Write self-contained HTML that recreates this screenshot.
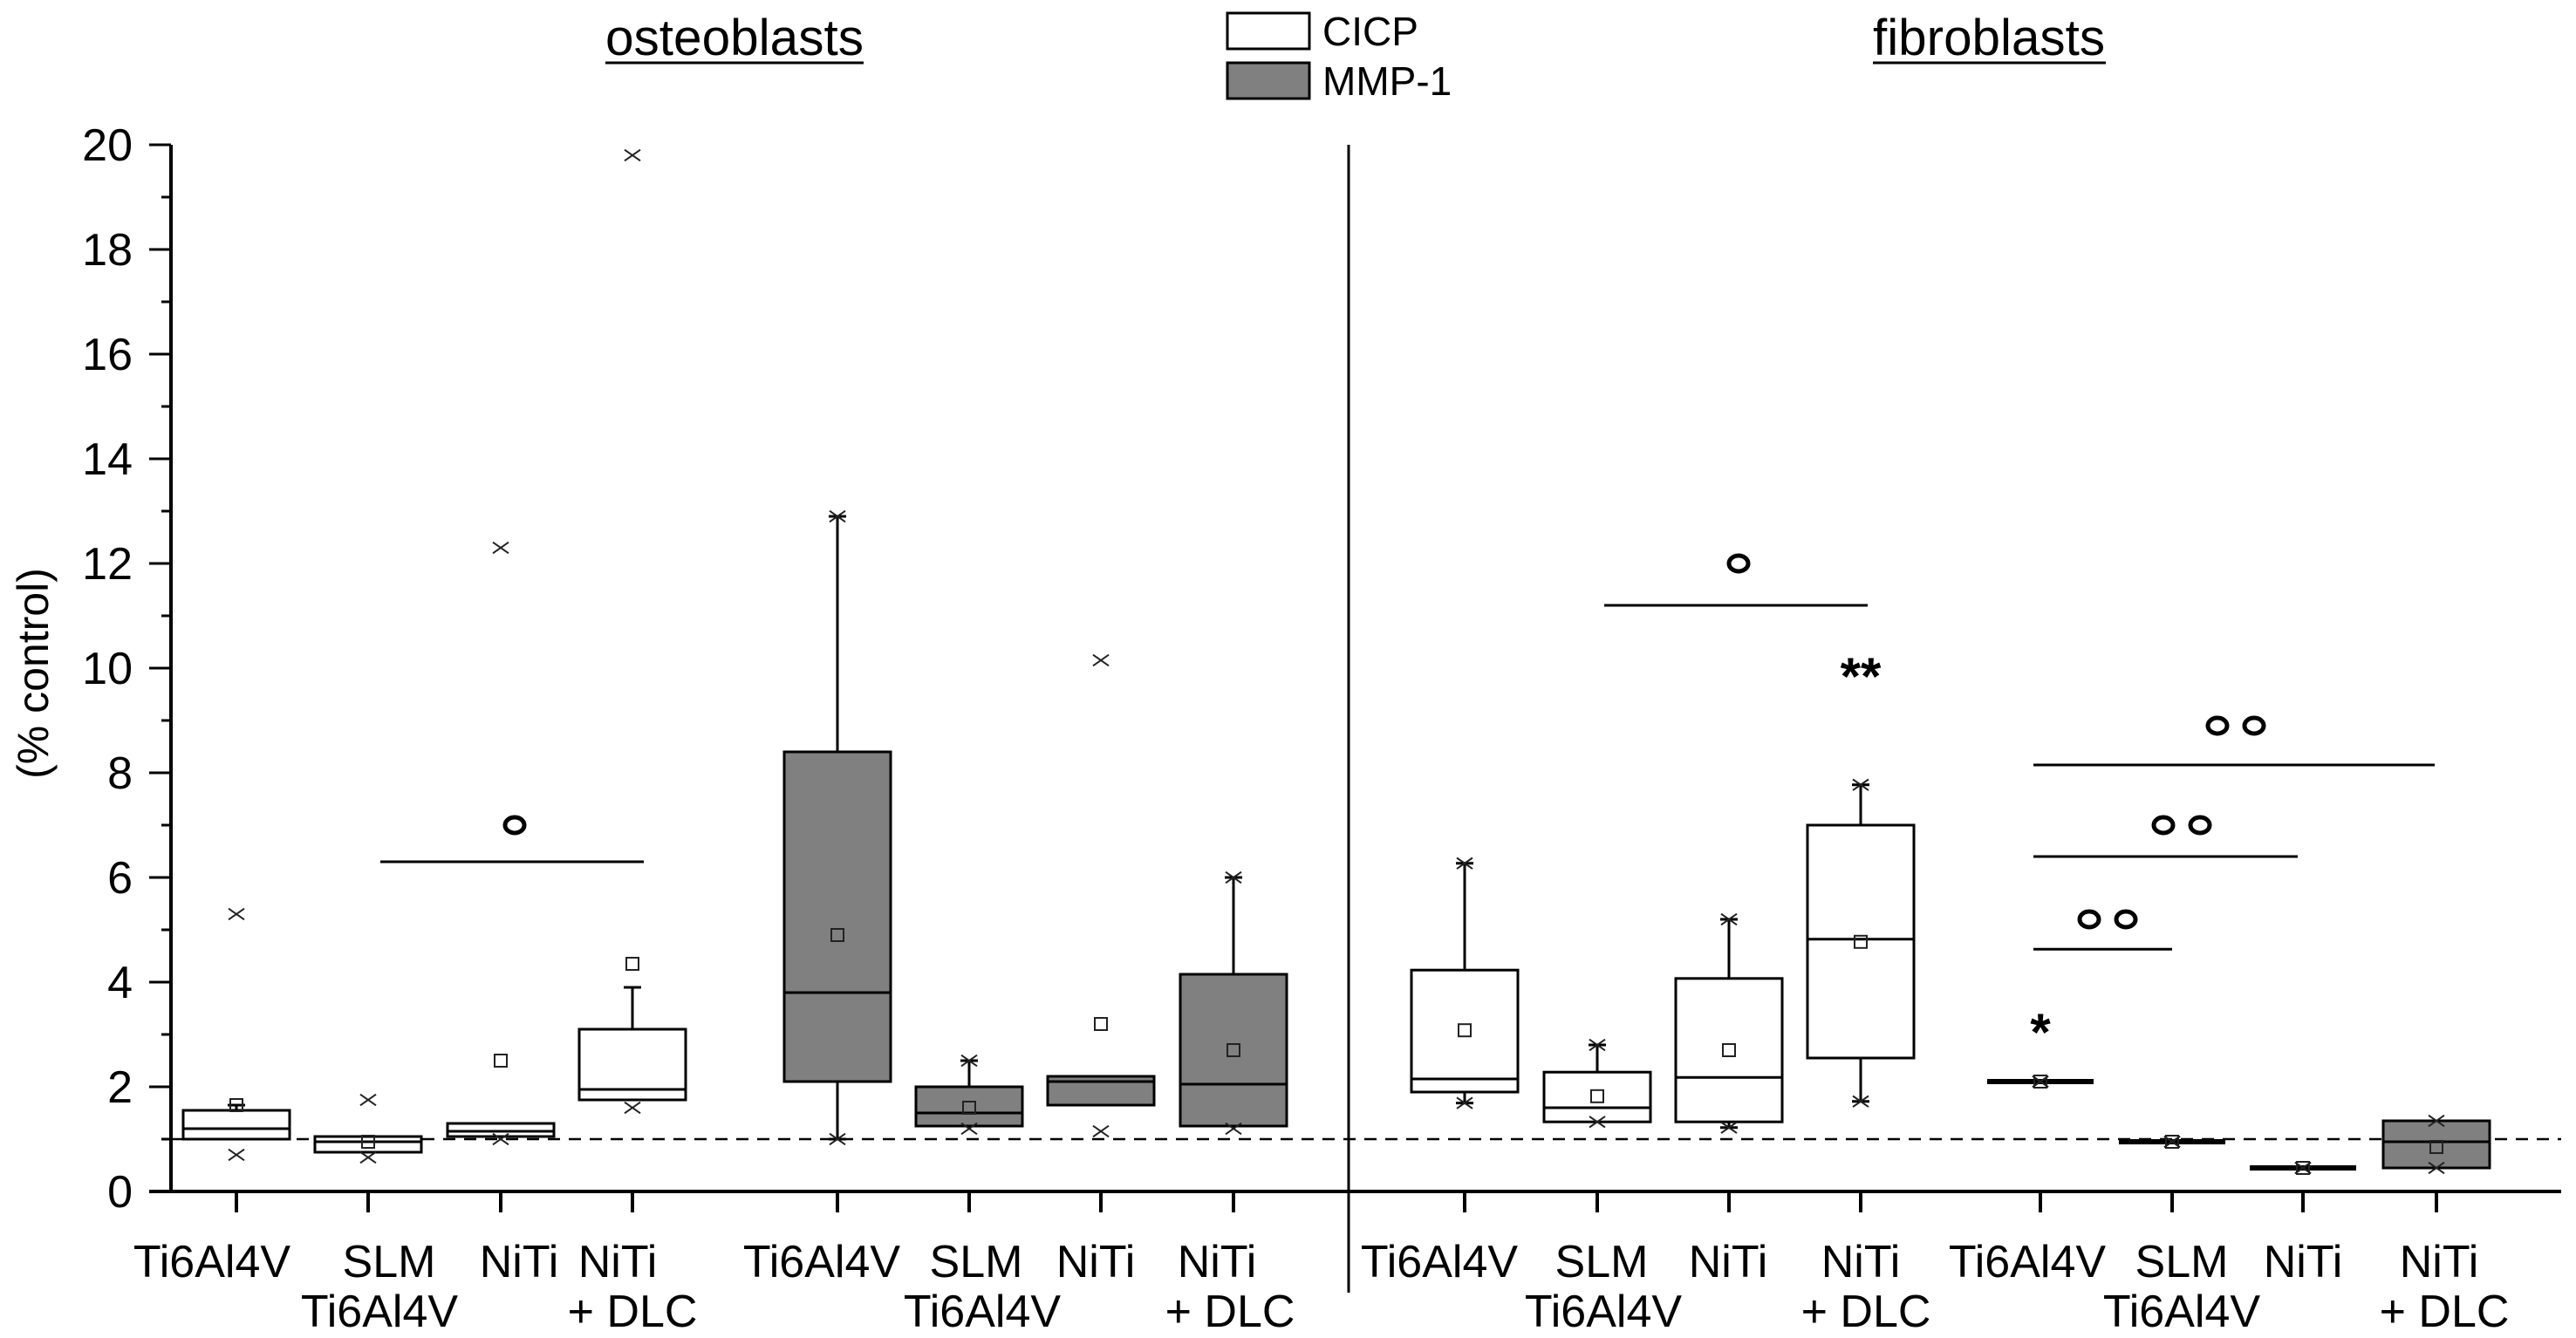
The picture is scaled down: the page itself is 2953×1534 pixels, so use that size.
<!DOCTYPE html>
<html><head><meta charset="utf-8">
<style>
html,body{margin:0;padding:0;background:#fff;}
svg{display:block;font-family:"Liberation Sans",sans-serif;}
</style></head>
<body>
<svg id="chart" width="2953" height="1534" viewBox="0 0 2953 1534" xmlns="http://www.w3.org/2000/svg">
<rect width="2953" height="1534" fill="#fff"/>
<g id="axes"></g>
<g id="marks"></g>
<g id="sig"></g>
<text x="842" y="63" font-size="58" text-anchor="middle" textLength="296" lengthAdjust="spacingAndGlyphs">osteoblasts</text>
<line x1="694" x2="990" y1="72" y2="72" stroke="#000" stroke-width="3"/>
<text x="2280" y="63" font-size="58" text-anchor="middle" textLength="266" lengthAdjust="spacingAndGlyphs">fibroblasts</text>
<line x1="2147" x2="2414" y1="72" y2="72" stroke="#000" stroke-width="3"/>
<g>
<rect x="1407" y="15" width="94" height="41" fill="#fff" stroke="#000" stroke-width="3"/>
<text x="1516" y="52" font-size="46">CICP</text>
<rect x="1407" y="72" width="94" height="41" fill="#808080" stroke="#000" stroke-width="3"/>
<text x="1516" y="109" font-size="46">MMP-1</text>
</g>
<text transform="translate(55,772) rotate(-90)" font-size="50" text-anchor="middle">(% control)</text>
</svg>
<script>
// ---- data ----
const categories = ["Ti6Al4V","SLM Ti6Al4V","NiTi","NiTi + DLC","Ti6Al4V","SLM Ti6Al4V","NiTi","NiTi + DLC","Ti6Al4V","SLM Ti6Al4V","NiTi","NiTi + DLC","Ti6Al4V","SLM Ti6Al4V","NiTi","NiTi + DLC"];
const series = ["CICP","CICP","CICP","CICP","MMP-1","MMP-1","MMP-1","MMP-1","CICP","CICP","CICP","CICP","MMP-1","MMP-1","MMP-1","MMP-1"];
const q1 =     [1.0, 0.75, 1.05, 1.75, 2.1, 1.25, 1.65, 1.25, 1.9, 1.33, 1.33, 2.55, 2.08, 0.93, 0.44, 0.45];
const median = [1.2, 0.95, 1.15, 1.95, 3.8, 1.5, 2.1, 2.05, 2.15, 1.6, 2.18, 4.82, 2.1, 0.95, 0.45, 0.95];
const q3 =     [1.55, 1.05, 1.3, 3.1, 8.4, 2.0, 2.2, 4.15, 4.23, 2.28, 4.07, 7.0, 2.12, 0.97, 0.47, 1.35];
const whiskLo =[1.0, 0.75, 1.05, 1.75, 1.0, 1.2, 1.65, 1.2, 1.69, 1.33, 1.22, 1.72, 2.08, 0.93, 0.44, 0.45];
const whiskHi =[1.65, 1.05, 1.3, 3.9, 12.9, 2.5, 2.2, 6.0, 6.27, 2.8, 5.2, 7.77, 2.12, 0.97, 0.47, 1.35];
const meanVal =[1.65, 0.95, 2.5, 4.35, 4.9, 1.6, 3.2, 2.7, 3.08, 1.82, 2.7, 4.77, 2.1, 0.95, 0.45, 0.85];
const maxX =   [5.3, 1.75, 12.3, 19.8, 12.9, 2.5, 10.15, 6.0, 6.27, 2.8, 5.2, 7.77, 2.1, 0.95, 0.45, 1.35];
const minX =   [0.7, 0.65, 1.0, 1.6, 1.0, 1.2, 1.15, 1.2, 1.69, 1.33, 1.22, 1.72, 2.1, 0.95, 0.45, 0.45];
const yTicks = [0,2,4,6,8,10,12,14,16,18,20];
const sigY =    [6.3, 11.2, 4.63, 6.4, 8.15];
const sigLabel =["o","o","o o","o o","o o"];
const sigLabelY=[7.0, 12.0, 5.2, 7.0, 8.9];
const starIdx = [11, 12];
const starLabel = ["**","*"];
const starY = [10.0, 3.2];

// ---- layout ----
const xPos = [271,422,574,725,960,1111,1262,1414,1679,1831,1982,2133,2339,2490,2640,2793];
const lab1X = [243,446,595,708,942,1119,1256,1395,1650,1836,1981,2133,2324,2501,2640,2796];
const lab2X = [0,435,0,725,0,1126,0,1410,0,1838,0,2139,0,2501,0,2802];
const sigX1 = [436,1839,2331,2331,2331];
const sigX2 = [738,2141,2490,2634,2791];
const sigCx = [590,1993,2416,2501,2563];

const Y0=1366, PX=60;
const y = v => Y0 - v*PX;
const NS="http://www.w3.org/2000/svg";
function mk(tag, attrs, parent){const e=document.createElementNS(NS,tag);for(const k in attrs)e.setAttribute(k,attrs[k]);parent.appendChild(e);return e;}
const axes=document.getElementById('axes'), marks=document.getElementById('marks'), sig=document.getElementById('sig');

let ya=mk('line',{x1:196,x2:196,y1:y(20),y2:1368,stroke:'#000','stroke-width':4},axes);


let xa=mk('line',{x1:171,x2:2936,y1:Y0,y2:Y0,stroke:'#000','stroke-width':4},axes);


for(let v=0;v<=20;v++){
  const major=v%2===0;
  const t=mk('line',{x1:major?171:185,x2:196,y1:y(v),y2:y(v),stroke:'#000','stroke-width':3},axes);
  
  
}
yTicks.forEach(v=>{
  const t=mk('text',{x:152,y:y(v)+18,'font-size':52,'text-anchor':'end'},axes);
  t.textContent=v;
  
  
});
let dv=mk('line',{x1:1546,x2:1546,y1:166,y2:1482,stroke:'#000','stroke-width':3},axes);


let rl=mk('line',{x1:196,x2:2936,y1:y(1),y2:y(1),stroke:'#000','stroke-width':2.5,'stroke-dasharray':'14 10'},axes);



categories.forEach((c,i)=>{
  const x=xPos[i];
  const t=mk('line',{x1:x,x2:x,y1:Y0,y2:Y0+24,stroke:'#000','stroke-width':4},axes);
  
  
  const parts = c==="SLM Ti6Al4V"?["SLM","Ti6Al4V"]:(c==="NiTi + DLC"?["NiTi","+ DLC"]:[c]);
  parts.forEach((p,j)=>{
    const tx=mk('text',{x:j===0?lab1X[i]:lab2X[i],y:1464+j*57,'font-size':52,'text-anchor':'middle'},axes);
    tx.textContent=p;
    
    
  });
});

function xmark(cx,cy,g){
  const s=9;
  mk('line',{x1:cx-s,y1:cy-s*0.7,x2:cx+s,y2:cy+s*0.7,stroke:'#222','stroke-width':2},g);
  mk('line',{x1:cx-s,y1:cy+s*0.7,x2:cx+s,y2:cy-s*0.7,stroke:'#222','stroke-width':2},g);
}
const W=122;
categories.forEach((c,i)=>{
  const x=xPos[i];
  const g=mk('g',{},marks);
  
  
  const fill=series[i]==='CICP'?'#fff':'#808080';
  const thin=(q3[i]-q1[i])<0.1;
  mk('line',{x1:x,x2:x,y1:y(q3[i]),y2:y(whiskHi[i]),stroke:'#000','stroke-width':3},g);
  mk('line',{x1:x,x2:x,y1:y(q1[i]),y2:y(whiskLo[i]),stroke:'#000','stroke-width':3},g);
  if(whiskHi[i]>q3[i]+0.05) mk('line',{x1:x-10,x2:x+10,y1:y(whiskHi[i]),y2:y(whiskHi[i]),stroke:'#000','stroke-width':3},g);
  if(whiskLo[i]<q1[i]-0.05) mk('line',{x1:x-10,x2:x+10,y1:y(whiskLo[i]),y2:y(whiskLo[i]),stroke:'#000','stroke-width':3},g);
  if(thin){
    mk('line',{x1:x-W/2,x2:x+W/2,y1:y(median[i]),y2:y(median[i]),stroke:'#000','stroke-width':6},g);
  } else {
    mk('rect',{x:x-W/2,y:y(q3[i]),width:W,height:y(q1[i])-y(q3[i]),fill:fill,stroke:'#000','stroke-width':3},g);
    mk('line',{x1:x-W/2,x2:x+W/2,y1:y(median[i]),y2:y(median[i]),stroke:'#000','stroke-width':3},g);
  }
  mk('rect',{x:x-7,y:y(meanVal[i])-7,width:14,height:14,fill:'none',stroke:'#222','stroke-width':2},g);
  xmark(x,y(maxX[i]),g);
  xmark(x,y(minX[i]),g);
});

sigY.forEach((sv,k)=>{
  const g=mk('g',{},sig);
  
  
  mk('line',{x1:sigX1[k],x2:sigX2[k],y1:y(sv),y2:y(sv),stroke:'#000','stroke-width':3},g);
  const n=sigLabel[k].split(' ').length;
  for(let j=0;j<n;j++){
    const ox = sigCx[k] + (n>1 ? (j-0.5)*42 : 0);
    mk('ellipse',{cx:ox,cy:y(sigLabelY[k]),rx:11,ry:9,fill:'none',stroke:'#000','stroke-width':5},g);
  }
});
starIdx.forEach((idx,k)=>{
  const t=mk('text',{x:xPos[idx],y:y(starY[k])+30,'font-size':60,'font-weight':'bold','text-anchor':'middle'},sig);
  t.textContent=starLabel[k];
  
  
});
</script>
</body></html>
